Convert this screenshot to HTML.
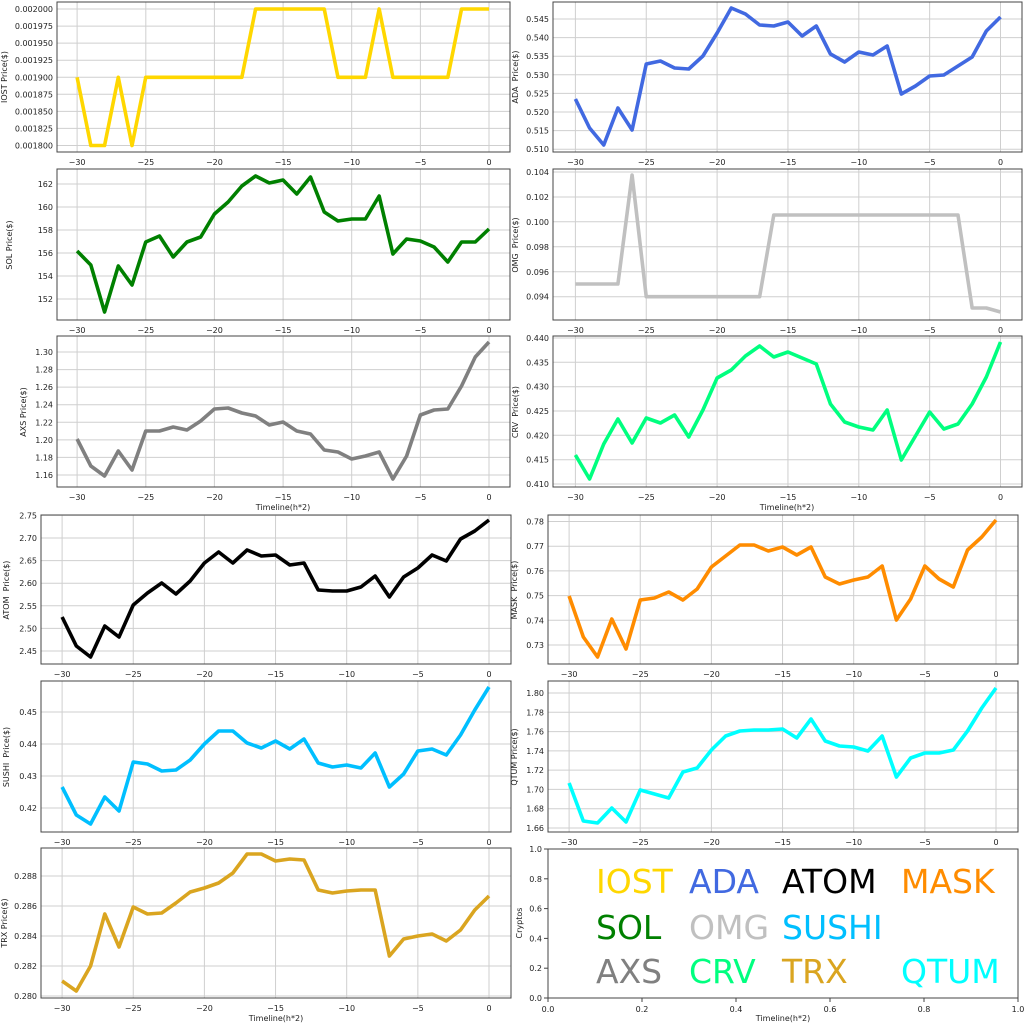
<!DOCTYPE html>
<html><head><meta charset="utf-8"><style>
body{margin:0;background:#fff}
svg{display:block}
text{font-family:"DejaVu Sans","Liberation Sans",sans-serif;font-size:8px;fill:#222}
.g{stroke:#cfcfcf;stroke-width:1}
.sp{fill:none;stroke:#444;stroke-width:1}
.tk{stroke:#444;stroke-width:1}
.ln{fill:none;stroke-width:3.6;stroke-linejoin:round;vector-effect:non-scaling-stroke}
.yl{text-anchor:end}
.xl{text-anchor:middle}
.lb{font-size:8px}
.big{font-size:33px}
</style></head><body>
<svg width="1024" height="1024" viewBox="0 0 1024 1024">
<!-- ========== IOST ========== -->
<g>
<g class="g">
<line x1="77.1" y1="2" x2="77.1" y2="152"/><line x1="145.8" y1="2" x2="145.8" y2="152"/><line x1="214.4" y1="2" x2="214.4" y2="152"/><line x1="283.1" y1="2" x2="283.1" y2="152"/><line x1="351.7" y1="2" x2="351.7" y2="152"/><line x1="420.4" y1="2" x2="420.4" y2="152"/><line x1="489" y1="2" x2="489" y2="152"/>
<line x1="57" y1="9" x2="510" y2="9"/><line x1="57" y1="26.1" x2="510" y2="26.1"/><line x1="57" y1="43.1" x2="510" y2="43.1"/><line x1="57" y1="60.2" x2="510" y2="60.2"/><line x1="57" y1="77.3" x2="510" y2="77.3"/><line x1="57" y1="94.3" x2="510" y2="94.3"/><line x1="57" y1="111.4" x2="510" y2="111.4"/><line x1="57" y1="128.4" x2="510" y2="128.4"/><line x1="57" y1="145.5" x2="510" y2="145.5"/>
</g>
<polyline class="ln" stroke="#FFD700" transform="translate(489,0) scale(13.73,1)" points="-30,77.3 -29,145.5 -28,145.5 -27,77.3 -26,145.5 -25,77.3 -24,77.3 -23,77.3 -22,77.3 -21,77.3 -20,77.3 -19,77.3 -18,77.3 -17,9 -16,9 -15,9 -14,9 -13,9 -12,9 -11,77.3 -10,77.3 -9,77.3 -8,9 -7,77.3 -6,77.3 -5,77.3 -4,77.3 -3,77.3 -2,9 -1,9 0,9"/>
<rect class="sp" x="57" y="2" width="453" height="150"/>
<text class="yl" x="53" y="12">0.002000</text><text class="yl" x="53" y="29.1">0.001975</text><text class="yl" x="53" y="46.1">0.001950</text><text class="yl" x="53" y="63.2">0.001925</text><text class="yl" x="53" y="80.3">0.001900</text><text class="yl" x="53" y="97.3">0.001875</text><text class="yl" x="53" y="114.4">0.001850</text><text class="yl" x="53" y="131.4">0.001825</text><text class="yl" x="53" y="148.5">0.001800</text>
<text class="xl" x="77.1" y="165">−30</text><text class="xl" x="145.8" y="165">−25</text><text class="xl" x="214.4" y="165">−20</text><text class="xl" x="283.1" y="165">−15</text><text class="xl" x="351.7" y="165">−10</text><text class="xl" x="420.4" y="165">−5</text><text class="xl" x="489" y="165">0</text>
<text class="xl lb" transform="translate(7,77) rotate(-90)">IOST Price($)</text>
</g>
<!-- ========== ADA ========== -->
<g>
<g class="g">
<line x1="575.4" y1="2" x2="575.4" y2="152"/><line x1="646.25" y1="2" x2="646.25" y2="152"/><line x1="717.1" y1="2" x2="717.1" y2="152"/><line x1="787.95" y1="2" x2="787.95" y2="152"/><line x1="858.8" y1="2" x2="858.8" y2="152"/><line x1="929.65" y1="2" x2="929.65" y2="152"/><line x1="1000.5" y1="2" x2="1000.5" y2="152"/>
<line x1="553" y1="19" x2="1022" y2="19"/><line x1="553" y1="37.6" x2="1022" y2="37.6"/><line x1="553" y1="56.2" x2="1022" y2="56.2"/><line x1="553" y1="74.8" x2="1022" y2="74.8"/><line x1="553" y1="93.4" x2="1022" y2="93.4"/><line x1="553" y1="112" x2="1022" y2="112"/><line x1="553" y1="130.6" x2="1022" y2="130.6"/><line x1="553" y1="149.2" x2="1022" y2="149.2"/>
</g>
<polyline class="ln" stroke="#4169E1" transform="translate(1000.5,0) scale(14.17,1)" points="-30,99 -29,128 -28,145 -27,108 -26,130 -25,64 -24,61 -23,68 -22,69 -21,56 -20,33 -19,8 -18,14 -17,25 -16,26 -15,22 -14,36 -13,26 -12,54 -11,62 -10,52 -9,55 -8,46 -7,94 -6,86 -5,76 -4,75 -3,66 -2,57 -1,31 0,17"/>
<rect class="sp" x="553" y="2" width="469" height="150"/>
<text class="yl" x="549" y="22">0.545</text><text class="yl" x="549" y="40.6">0.540</text><text class="yl" x="549" y="59.2">0.535</text><text class="yl" x="549" y="77.8">0.530</text><text class="yl" x="549" y="96.4">0.525</text><text class="yl" x="549" y="115">0.520</text><text class="yl" x="549" y="133.6">0.515</text><text class="yl" x="549" y="152.2">0.510</text>
<text class="xl" x="575.4" y="165">−30</text><text class="xl" x="646.25" y="165">−25</text><text class="xl" x="717.1" y="165">−20</text><text class="xl" x="787.95" y="165">−15</text><text class="xl" x="858.8" y="165">−10</text><text class="xl" x="929.65" y="165">−5</text><text class="xl" x="1000.5" y="165">0</text>
<text class="xl lb" transform="translate(518,77) rotate(-90)" xml:space="preserve">ADA  Price($)</text>
</g>
<!-- ========== SOL ========== -->
<g>
<g class="g">
<line x1="77.1" y1="169" x2="77.1" y2="320"/><line x1="145.8" y1="169" x2="145.8" y2="320"/><line x1="214.4" y1="169" x2="214.4" y2="320"/><line x1="283.1" y1="169" x2="283.1" y2="320"/><line x1="351.7" y1="169" x2="351.7" y2="320"/><line x1="420.4" y1="169" x2="420.4" y2="320"/><line x1="489" y1="169" x2="489" y2="320"/>
<line x1="57" y1="184" x2="510" y2="184"/><line x1="57" y1="207" x2="510" y2="207"/><line x1="57" y1="230" x2="510" y2="230"/><line x1="57" y1="253" x2="510" y2="253"/><line x1="57" y1="276" x2="510" y2="276"/><line x1="57" y1="299" x2="510" y2="299"/>
</g>
<polyline class="ln" stroke="#008000" transform="translate(489,0) scale(13.73,1)" points="-30,251 -29,265 -28,312 -27,266 -26,285 -25,242 -24,236 -23,257 -22,242 -21,237 -20,214 -19,202 -18,186 -17,176 -16,183 -15,180 -14,194 -13,177 -12,212 -11,221 -10,219 -9,219 -8,196 -7,254 -6,239 -5,241 -4,247 -3,262 -2,242 -1,242 0,229"/>
<rect class="sp" x="57" y="169" width="453" height="151"/>
<text class="yl" x="53" y="187">162</text><text class="yl" x="53" y="210">160</text><text class="yl" x="53" y="233">158</text><text class="yl" x="53" y="256">156</text><text class="yl" x="53" y="279">154</text><text class="yl" x="53" y="302">152</text>
<text class="xl" x="77.1" y="333">−30</text><text class="xl" x="145.8" y="333">−25</text><text class="xl" x="214.4" y="333">−20</text><text class="xl" x="283.1" y="333">−15</text><text class="xl" x="351.7" y="333">−10</text><text class="xl" x="420.4" y="333">−5</text><text class="xl" x="489" y="333">0</text>
<text class="xl lb" transform="translate(12,245) rotate(-90)">SOL Price($)</text>
</g>
<!-- ========== OMG ========== -->
<g>
<g class="g">
<line x1="575.4" y1="169" x2="575.4" y2="320"/><line x1="646.25" y1="169" x2="646.25" y2="320"/><line x1="717.1" y1="169" x2="717.1" y2="320"/><line x1="787.95" y1="169" x2="787.95" y2="320"/><line x1="858.8" y1="169" x2="858.8" y2="320"/><line x1="929.65" y1="169" x2="929.65" y2="320"/><line x1="1000.5" y1="169" x2="1000.5" y2="320"/>
<line x1="553" y1="172" x2="1022" y2="172"/><line x1="553" y1="197" x2="1022" y2="197"/><line x1="553" y1="221.8" x2="1022" y2="221.8"/><line x1="553" y1="246.8" x2="1022" y2="246.8"/><line x1="553" y1="271.8" x2="1022" y2="271.8"/><line x1="553" y1="296.7" x2="1022" y2="296.7"/>
</g>
<polyline class="ln" stroke="#C0C0C0" transform="translate(1000.5,0) scale(14.17,1)" points="-30,284 -29,284 -28,284 -27,284 -26,175 -25,296.7 -24,296.7 -23,296.7 -22,296.7 -21,296.7 -20,296.7 -19,296.7 -18,296.7 -17,296.7 -16,215 -15,215 -14,215 -13,215 -12,215 -11,215 -10,215 -9,215 -8,215 -7,215 -6,215 -5,215 -4,215 -3,215 -2,308 -1,308 0,312"/>
<rect class="sp" x="553" y="169" width="469" height="151"/>
<text class="yl" x="549" y="175">0.104</text><text class="yl" x="549" y="200">0.102</text><text class="yl" x="549" y="224.8">0.100</text><text class="yl" x="549" y="249.8">0.098</text><text class="yl" x="549" y="274.8">0.096</text><text class="yl" x="549" y="299.7">0.094</text>
<text class="xl" x="575.4" y="333">−30</text><text class="xl" x="646.25" y="333">−25</text><text class="xl" x="717.1" y="333">−20</text><text class="xl" x="787.95" y="333">−15</text><text class="xl" x="858.8" y="333">−10</text><text class="xl" x="929.65" y="333">−5</text><text class="xl" x="1000.5" y="333">0</text>
<text class="xl lb" transform="translate(518,245) rotate(-90)" xml:space="preserve">OMG  Price($)</text>
</g>
<!-- ========== AXS ========== -->
<g>
<g class="g">
<line x1="77.1" y1="336" x2="77.1" y2="487"/><line x1="145.8" y1="336" x2="145.8" y2="487"/><line x1="214.4" y1="336" x2="214.4" y2="487"/><line x1="283.1" y1="336" x2="283.1" y2="487"/><line x1="351.7" y1="336" x2="351.7" y2="487"/><line x1="420.4" y1="336" x2="420.4" y2="487"/><line x1="489" y1="336" x2="489" y2="487"/>
<line x1="57" y1="352" x2="510" y2="352"/><line x1="57" y1="369.6" x2="510" y2="369.6"/><line x1="57" y1="387.1" x2="510" y2="387.1"/><line x1="57" y1="404.7" x2="510" y2="404.7"/><line x1="57" y1="422.3" x2="510" y2="422.3"/><line x1="57" y1="439.9" x2="510" y2="439.9"/><line x1="57" y1="457.4" x2="510" y2="457.4"/><line x1="57" y1="475" x2="510" y2="475"/>
</g>
<polyline class="ln" stroke="#808080" transform="translate(489,0) scale(13.73,1)" points="-30,439 -29,466 -28,476 -27,451 -26,470 -25,431 -24,431 -23,427 -22,430 -21,421 -20,409 -19,408 -18,413 -17,416 -16,425 -15,422 -14,431 -13,434 -12,450 -11,452 -10,459 -9,456 -8,452 -7,479 -6,456 -5,415 -4,410 -3,409 -2,386 -1,357 0,342"/>
<rect class="sp" x="57" y="336" width="453" height="151"/>
<text class="yl" x="53" y="355">1.30</text><text class="yl" x="53" y="372.6">1.28</text><text class="yl" x="53" y="390.1">1.26</text><text class="yl" x="53" y="407.7">1.24</text><text class="yl" x="53" y="425.3">1.22</text><text class="yl" x="53" y="442.9">1.20</text><text class="yl" x="53" y="460.4">1.18</text><text class="yl" x="53" y="478">1.16</text>
<text class="xl" x="77.1" y="500">−30</text><text class="xl" x="145.8" y="500">−25</text><text class="xl" x="214.4" y="500">−20</text><text class="xl" x="283.1" y="500">−15</text><text class="xl" x="351.7" y="500">−10</text><text class="xl" x="420.4" y="500">−5</text><text class="xl" x="489" y="500">0</text>
<text class="xl lb" x="283" y="510">Timeline(h*2)</text>
<text class="xl lb" transform="translate(26,412) rotate(-90)">AXS Price($)</text>
</g>
<!-- ========== CRV ========== -->
<g>
<g class="g">
<line x1="575.4" y1="336" x2="575.4" y2="487"/><line x1="646.25" y1="336" x2="646.25" y2="487"/><line x1="717.1" y1="336" x2="717.1" y2="487"/><line x1="787.95" y1="336" x2="787.95" y2="487"/><line x1="858.8" y1="336" x2="858.8" y2="487"/><line x1="929.65" y1="336" x2="929.65" y2="487"/><line x1="1000.5" y1="336" x2="1000.5" y2="487"/>
<line x1="553" y1="338" x2="1022" y2="338"/><line x1="553" y1="362.3" x2="1022" y2="362.3"/><line x1="553" y1="386.7" x2="1022" y2="386.7"/><line x1="553" y1="411" x2="1022" y2="411"/><line x1="553" y1="435.3" x2="1022" y2="435.3"/><line x1="553" y1="459.7" x2="1022" y2="459.7"/><line x1="553" y1="484" x2="1022" y2="484"/>
</g>
<polyline class="ln" stroke="#00FF7F" transform="translate(1000.5,0) scale(14.17,1)" points="-30,455 -29,479 -28,444 -27,419 -26,443 -25,418 -24,423 -23,415 -22,437 -21,410 -20,378 -19,370 -18,356 -17,346 -16,357 -15,352 -14,358 -13,364 -12,404 -11,422 -10,427 -9,430 -8,410 -7,460 -6,436 -5,412 -4,429 -3,424 -2,404 -1,377 0,342"/>
<rect class="sp" x="553" y="336" width="469" height="151"/>
<text class="yl" x="549" y="341">0.440</text><text class="yl" x="549" y="365.3">0.435</text><text class="yl" x="549" y="389.7">0.430</text><text class="yl" x="549" y="414">0.425</text><text class="yl" x="549" y="438.3">0.420</text><text class="yl" x="549" y="462.7">0.415</text><text class="yl" x="549" y="487">0.410</text>
<text class="xl" x="575.4" y="500">−30</text><text class="xl" x="646.25" y="500">−25</text><text class="xl" x="717.1" y="500">−20</text><text class="xl" x="787.95" y="500">−15</text><text class="xl" x="858.8" y="500">−10</text><text class="xl" x="929.65" y="500">−5</text><text class="xl" x="1000.5" y="500">0</text>
<text class="xl lb" x="787" y="510">Timeline(h*2)</text>
<text class="xl lb" transform="translate(518,412) rotate(-90)" xml:space="preserve">CRV  Price($)</text>
</g>
<!-- ========== ATOM ========== -->
<g>
<g class="g">
<line x1="62.1" y1="515" x2="62.1" y2="664"/><line x1="133.25" y1="515" x2="133.25" y2="664"/><line x1="204.4" y1="515" x2="204.4" y2="664"/><line x1="275.55" y1="515" x2="275.55" y2="664"/><line x1="346.7" y1="515" x2="346.7" y2="664"/><line x1="417.85" y1="515" x2="417.85" y2="664"/><line x1="489" y1="515" x2="489" y2="664"/>
<line x1="41" y1="515.3" x2="511" y2="515.3"/><line x1="41" y1="538" x2="511" y2="538"/><line x1="41" y1="560.6" x2="511" y2="560.6"/><line x1="41" y1="583.2" x2="511" y2="583.2"/><line x1="41" y1="605.8" x2="511" y2="605.8"/><line x1="41" y1="628.4" x2="511" y2="628.4"/><line x1="41" y1="651" x2="511" y2="651"/>
</g>
<polyline class="ln" stroke="#000000" transform="translate(489,0) scale(14.23,1)" points="-30,617 -29,646 -28,657 -27,626 -26,637 -25,605 -24,593 -23,583 -22,594 -21,581 -20,563 -19,552 -18,563 -17,550 -16,556 -15,555 -14,565 -13,563 -12,590 -11,591 -10,591 -9,587 -8,576 -7,597 -6,577 -5,568 -4,555 -3,561 -2,539 -1,531 0,520"/>
<rect class="sp" x="41" y="515" width="470" height="149"/>
<text class="yl" x="37" y="518.3">2.75</text><text class="yl" x="37" y="541">2.70</text><text class="yl" x="37" y="563.6">2.65</text><text class="yl" x="37" y="586.2">2.60</text><text class="yl" x="37" y="608.8">2.55</text><text class="yl" x="37" y="631.4">2.50</text><text class="yl" x="37" y="654">2.45</text>
<text class="xl" x="62.1" y="677">−30</text><text class="xl" x="133.25" y="677">−25</text><text class="xl" x="204.4" y="677">−20</text><text class="xl" x="275.55" y="677">−15</text><text class="xl" x="346.7" y="677">−10</text><text class="xl" x="417.85" y="677">−5</text><text class="xl" x="489" y="677">0</text>
<text class="xl lb" transform="translate(9,590) rotate(-90)" xml:space="preserve">ATOM  Price($)</text>
</g>
<!-- ========== MASK ========== -->
<g>
<g class="g">
<line x1="569.1" y1="515" x2="569.1" y2="664"/><line x1="640.25" y1="515" x2="640.25" y2="664"/><line x1="711.4" y1="515" x2="711.4" y2="664"/><line x1="782.55" y1="515" x2="782.55" y2="664"/><line x1="853.7" y1="515" x2="853.7" y2="664"/><line x1="924.85" y1="515" x2="924.85" y2="664"/><line x1="996" y1="515" x2="996" y2="664"/>
<line x1="548" y1="521.5" x2="1018" y2="521.5"/><line x1="548" y1="546.2" x2="1018" y2="546.2"/><line x1="548" y1="570.9" x2="1018" y2="570.9"/><line x1="548" y1="595.6" x2="1018" y2="595.6"/><line x1="548" y1="620.3" x2="1018" y2="620.3"/><line x1="548" y1="645" x2="1018" y2="645"/>
</g>
<polyline class="ln" stroke="#FF8C00" transform="translate(996,0) scale(14.23,1)" points="-30,596 -29,637 -28,657 -27,619 -26,649 -25,600 -24,598 -23,592 -22,600 -21,589 -20,567 -19,556 -18,545 -17,545 -16,551 -15,547 -14,555 -13,547 -12,577 -11,584 -10,580 -9,577 -8,566 -7,620 -6,599 -5,566 -4,579 -3,587 -2,550 -1,537 0,520"/>
<rect class="sp" x="548" y="515" width="470" height="149"/>
<text class="yl" x="544" y="524.5">0.78</text><text class="yl" x="544" y="549.2">0.77</text><text class="yl" x="544" y="573.9">0.76</text><text class="yl" x="544" y="598.6">0.75</text><text class="yl" x="544" y="623.3">0.74</text><text class="yl" x="544" y="648">0.73</text>
<text class="xl" x="569.1" y="677">−30</text><text class="xl" x="640.25" y="677">−25</text><text class="xl" x="711.4" y="677">−20</text><text class="xl" x="782.55" y="677">−15</text><text class="xl" x="853.7" y="677">−10</text><text class="xl" x="924.85" y="677">−5</text><text class="xl" x="996" y="677">0</text>
<text class="xl lb" transform="translate(517,590) rotate(-90)" xml:space="preserve">MASK  Price($)</text>
</g>
<!-- ========== SUSHI ========== -->
<g>
<g class="g">
<line x1="62.1" y1="681" x2="62.1" y2="832"/><line x1="133.25" y1="681" x2="133.25" y2="832"/><line x1="204.4" y1="681" x2="204.4" y2="832"/><line x1="275.55" y1="681" x2="275.55" y2="832"/><line x1="346.7" y1="681" x2="346.7" y2="832"/><line x1="417.85" y1="681" x2="417.85" y2="832"/><line x1="489" y1="681" x2="489" y2="832"/>
<line x1="41" y1="712" x2="511" y2="712"/><line x1="41" y1="744" x2="511" y2="744"/><line x1="41" y1="776" x2="511" y2="776"/><line x1="41" y1="808" x2="511" y2="808"/>
</g>
<polyline class="ln" stroke="#00BFFF" transform="translate(489,0) scale(14.23,1)" points="-30,787 -29,815 -28,824 -27,797 -26,811 -25,762 -24,764 -23,771 -22,770 -21,760 -20,744 -19,731 -18,731 -17,743 -16,748 -15,741 -14,749 -13,739 -12,763 -11,767 -10,765 -9,768 -8,753 -7,787 -6,774 -5,751 -4,749 -3,755 -2,735 -1,710 0,687"/>
<rect class="sp" x="41" y="681" width="470" height="151"/>
<text class="yl" x="37" y="715">0.45</text><text class="yl" x="37" y="747">0.44</text><text class="yl" x="37" y="779">0.43</text><text class="yl" x="37" y="811">0.42</text>
<text class="xl" x="62.1" y="845">−30</text><text class="xl" x="133.25" y="845">−25</text><text class="xl" x="204.4" y="845">−20</text><text class="xl" x="275.55" y="845">−15</text><text class="xl" x="346.7" y="845">−10</text><text class="xl" x="417.85" y="845">−5</text><text class="xl" x="489" y="845">0</text>
<text class="xl lb" transform="translate(9,757) rotate(-90)" xml:space="preserve">SUSHI  Price($)</text>
</g>
<!-- ========== QTUM ========== -->
<g>
<g class="g">
<line x1="569.1" y1="681" x2="569.1" y2="832"/><line x1="640.25" y1="681" x2="640.25" y2="832"/><line x1="711.4" y1="681" x2="711.4" y2="832"/><line x1="782.55" y1="681" x2="782.55" y2="832"/><line x1="853.7" y1="681" x2="853.7" y2="832"/><line x1="924.85" y1="681" x2="924.85" y2="832"/><line x1="996" y1="681" x2="996" y2="832"/>
<line x1="548" y1="693" x2="1018" y2="693"/><line x1="548" y1="712.3" x2="1018" y2="712.3"/><line x1="548" y1="731.6" x2="1018" y2="731.6"/><line x1="548" y1="750.9" x2="1018" y2="750.9"/><line x1="548" y1="770.1" x2="1018" y2="770.1"/><line x1="548" y1="789.4" x2="1018" y2="789.4"/><line x1="548" y1="808.7" x2="1018" y2="808.7"/><line x1="548" y1="828" x2="1018" y2="828"/>
</g>
<polyline class="ln" stroke="#00FFFF" transform="translate(996,0) scale(14.23,1)" points="-30,783 -29,821 -28,823 -27,808 -26,822 -25,790 -24,794 -23,798 -22,772 -21,768 -20,750 -19,736 -18,731 -17,730 -16,730 -15,729 -14,738 -13,719 -12,741 -11,746 -10,747 -9,751 -8,736 -7,777 -6,758 -5,753 -4,753 -3,750 -2,731 -1,708 0,688"/>
<rect class="sp" x="548" y="681" width="470" height="151"/>
<text class="yl" x="544" y="696">1.80</text><text class="yl" x="544" y="715.3">1.78</text><text class="yl" x="544" y="734.6">1.76</text><text class="yl" x="544" y="753.9">1.74</text><text class="yl" x="544" y="773.1">1.72</text><text class="yl" x="544" y="792.4">1.70</text><text class="yl" x="544" y="811.7">1.68</text><text class="yl" x="544" y="831">1.66</text>
<text class="xl" x="569.1" y="845">−30</text><text class="xl" x="640.25" y="845">−25</text><text class="xl" x="711.4" y="845">−20</text><text class="xl" x="782.55" y="845">−15</text><text class="xl" x="853.7" y="845">−10</text><text class="xl" x="924.85" y="845">−5</text><text class="xl" x="996" y="845">0</text>
<text class="xl lb" transform="translate(517,757) rotate(-90)">QTUM Price($)</text>
</g>
<!-- ========== TRX ========== -->
<g>
<g class="g">
<line x1="62.1" y1="848" x2="62.1" y2="998"/><line x1="133.25" y1="848" x2="133.25" y2="998"/><line x1="204.4" y1="848" x2="204.4" y2="998"/><line x1="275.55" y1="848" x2="275.55" y2="998"/><line x1="346.7" y1="848" x2="346.7" y2="998"/><line x1="417.85" y1="848" x2="417.85" y2="998"/><line x1="489" y1="848" x2="489" y2="998"/>
<line x1="41" y1="876" x2="511" y2="876"/><line x1="41" y1="906" x2="511" y2="906"/><line x1="41" y1="936" x2="511" y2="936"/><line x1="41" y1="966" x2="511" y2="966"/><line x1="41" y1="996" x2="511" y2="996"/>
</g>
<polyline class="ln" stroke="#DAA520" transform="translate(489,0) scale(14.23,1)" points="-30,981 -29,991 -28,966 -27,914 -26,947 -25,907 -24,914 -23,913 -22,903 -21,892 -20,888 -19,883 -18,873 -17,854 -16,854 -15,861 -14,859 -13,860 -12,890 -11,893 -10,891 -9,890 -8,890 -7,956 -6,939 -5,936 -4,934 -3,941 -2,930 -1,910 0,896"/>
<rect class="sp" x="41" y="848" width="470" height="150"/>
<text class="yl" x="37" y="879">0.288</text><text class="yl" x="37" y="909">0.286</text><text class="yl" x="37" y="939">0.284</text><text class="yl" x="37" y="969">0.282</text><text class="yl" x="37" y="999">0.280</text>
<text class="xl" x="62.1" y="1011">−30</text><text class="xl" x="133.25" y="1011">−25</text><text class="xl" x="204.4" y="1011">−20</text><text class="xl" x="275.55" y="1011">−15</text><text class="xl" x="346.7" y="1011">−10</text><text class="xl" x="417.85" y="1011">−5</text><text class="xl" x="489" y="1011">0</text>
<text class="xl lb" x="276" y="1021">Timeline(h*2)</text>
<text class="xl lb" transform="translate(7,923) rotate(-90)">TRX Price($)</text>
</g>
<!-- ========== Legend panel ========== -->
<g>
<rect class="sp" x="548" y="849" width="470" height="149"/>
<g class="tk">
<line x1="548" y1="998" x2="548" y2="1002"/><line x1="642" y1="998" x2="642" y2="1002"/><line x1="736" y1="998" x2="736" y2="1002"/><line x1="830" y1="998" x2="830" y2="1002"/><line x1="924" y1="998" x2="924" y2="1002"/><line x1="1018" y1="998" x2="1018" y2="1002"/>
<line x1="544" y1="849" x2="548" y2="849"/><line x1="544" y1="878.8" x2="548" y2="878.8"/><line x1="544" y1="908.6" x2="548" y2="908.6"/><line x1="544" y1="938.4" x2="548" y2="938.4"/><line x1="544" y1="968.2" x2="548" y2="968.2"/><line x1="544" y1="998" x2="548" y2="998"/>
</g>
<text class="yl" x="542" y="852">1.0</text><text class="yl" x="542" y="881.8">0.8</text><text class="yl" x="542" y="911.6">0.6</text><text class="yl" x="542" y="941.4">0.4</text><text class="yl" x="542" y="971.2">0.2</text><text class="yl" x="542" y="1001">0.0</text>
<text class="xl" x="548" y="1012">0.0</text><text class="xl" x="642" y="1012">0.2</text><text class="xl" x="736" y="1012">0.4</text><text class="xl" x="830" y="1012">0.6</text><text class="xl" x="924" y="1012">0.8</text><text class="xl" x="1018" y="1012">1.0</text>
<text class="xl lb" x="783" y="1021">Timeline(h*2)</text>
<text class="xl lb" transform="translate(522,923) rotate(-90)">Cryptos</text>
<text class="big" x="596" y="893" style="fill:#FFD700">IOST</text>
<text class="big" x="689" y="893" style="fill:#4169E1">ADA</text>
<text class="big" x="782" y="893" style="fill:#000">ATOM</text>
<text class="big" x="901" y="893" style="fill:#FF8C00">MASK</text>
<text class="big" x="596" y="939" style="fill:#008000">SOL</text>
<text class="big" x="689" y="939" style="fill:#C0C0C0">OMG</text>
<text class="big" x="782" y="939" style="fill:#00BFFF">SUSHI</text>
<text class="big" x="596" y="983" style="fill:#808080">AXS</text>
<text class="big" x="689" y="983" style="fill:#00FF7F">CRV</text>
<text class="big" x="782" y="983" style="fill:#DAA520">TRX</text>
<text class="big" x="901" y="983" style="fill:#00FFFF">QTUM</text>
</g>
</svg>
</body></html>
